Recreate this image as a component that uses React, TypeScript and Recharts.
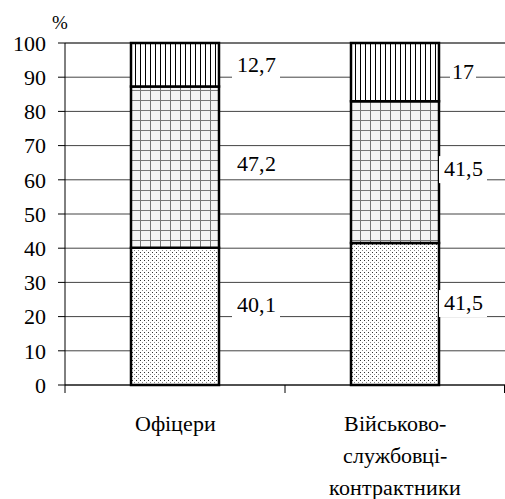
import React from 'react';
import { BarChart, Bar, XAxis, YAxis, CartesianGrid, LabelList } from 'recharts';

const categories = ['Офіцери', 'Військово-\nслужбовці-\nконтрактники'];
const lowerShare = [40.1, 41.5];
const middleShare = [47.2, 41.5];
const upperShare = [12.7, 17];
const yTicks = [0, 10, 20, 30, 40, 50, 60, 70, 80, 90, 100];

const data = categories.map((name, i) => ({
  name,
  lower: lowerShare[i],
  middle: middleShare[i],
  upper: upperShare[i],
}));

const W = 505;
const H = 499;
const Y_AXIS_W = 65;
const X_AXIS_H = 114;
const BAND_HALF = (W - Y_AXIS_W) / categories.length / 2;
const FONT = "ChartSerif, 'Liberation Serif', Tinos, 'Times New Roman', serif";

const pageCss = `
@font-face { font-family: ChartSerif; src: local('Liberation Serif'), local('LiberationSerif'), local('Tinos'); }
body { margin: 0; }
.chart-root, .chart-root text { font-family: ${FONT}; }
`;

// labels sit a little right of each bar, the white box hides the gridline under them
const labelShift = [37, 24];

const makeLabel = (dyShift: number) => (props: any) => {
  const { x, y, width, height, value, index } = props;
  const text = String(value).replace('.', ',');
  const cx = Number(x) + Number(width) + labelShift[index];
  const cy = Number(y) + Number(height) / 2 + dyShift;
  const boxW = text.length * 11 + 4;
  return (
    <g>
      <rect x={cx - boxW / 2} y={cy - 12} width={boxW} height={27} fill="#fff" />
      <text x={cx} y={cy} dy="0.355em" textAnchor="middle" fontSize={22} fill="#000">
        {text}
      </text>
    </g>
  );
};

const CategoryTick = (props: any) => {
  const { x, y, payload, index } = props;
  const lines = String(payload.value).split('\n');
  return (
    <g>
      <line x1={x - BAND_HALF} x2={x - BAND_HALF} y1={y} y2={y + 8} stroke="#000" />
      {index === categories.length - 1 && (
        <line x1={x + BAND_HALF - 0.5} x2={x + BAND_HALF - 0.5} y1={y} y2={y + 8} stroke="#000" />
      )}
      {lines.map((ln, i) => (
        <text key={i} x={x} y={y + 38 + i * 32} dy="0.355em" textAnchor="middle" fontSize={22} fill="#000">
          {ln}
        </text>
      ))}
    </g>
  );
};

const ValueTick = (props: any) => {
  const { x, y, payload } = props;
  return (
    <text x={x} y={y} dy="0.355em" textAnchor="end" fontSize={22} fill="#000">
      {payload.value}
    </text>
  );
};

export default function App() {
  return (
    <div className="chart-root" style={{ width: W, height: H, position: 'relative', background: '#fff' }}>
      <style>{pageCss}</style>
      <BarChart width={W} height={H} data={data} margin={{ top: 43, right: 0, bottom: 0, left: 0 }} barSize={88}>
        <defs>
          <pattern id="dots" width="4" height="4" patternUnits="userSpaceOnUse">
            <rect width="4" height="4" fill="#fff" />
            <rect x="0" y="0" width="1" height="1" fill="#333" />
            <rect x="2" y="2" width="1" height="1" fill="#888" />
          </pattern>
          <pattern id="grid" width="10" height="10" patternUnits="userSpaceOnUse">
            <rect width="10" height="10" fill="#f4f4f4" />
            <path d="M0 0.5 H10 M0.5 0 V10" stroke="#777" strokeWidth="1" />
          </pattern>
          <pattern id="stripes" width="5" height="10" patternUnits="userSpaceOnUse">
            <rect width="5" height="10" fill="#fff" />
            <path d="M0.5 0 V10" stroke="#000" strokeWidth="1" />
          </pattern>
        </defs>
        <CartesianGrid vertical={false} stroke="#444" />
        <XAxis
          dataKey="name"
          height={X_AXIS_H}
          tickLine={false}
          tickSize={0}
          tickMargin={0}
          axisLine={{ stroke: '#000' }}
          tick={<CategoryTick />}
          interval={0}
        />
        <YAxis
          width={Y_AXIS_W}
          domain={[0, 100]}
          ticks={yTicks}
          interval={0}
          tickSize={7}
          tickMargin={12}
          axisLine={{ stroke: '#000' }}
          tickLine={{ stroke: '#000' }}
          tick={<ValueTick />}
        />
        <Bar dataKey="lower" stackId="s" fill="url(#dots)" stroke="#000" strokeWidth={2.5} isAnimationActive={false}>
          <LabelList dataKey="lower" content={makeLabel(-12)} />
        </Bar>
        <Bar dataKey="middle" stackId="s" fill="url(#grid)" stroke="#000" strokeWidth={2.5} isAnimationActive={false}>
          <LabelList dataKey="middle" content={makeLabel(-4)} />
        </Bar>
        <Bar dataKey="upper" stackId="s" fill="url(#stripes)" stroke="#000" strokeWidth={2.5} isAnimationActive={false}>
          <LabelList dataKey="upper" content={makeLabel(-1)} />
        </Bar>
      </BarChart>
      <div style={{ position: 'absolute', left: 52, top: 12, fontSize: 19, lineHeight: '22px' }}>%</div>
    </div>
  );
}
